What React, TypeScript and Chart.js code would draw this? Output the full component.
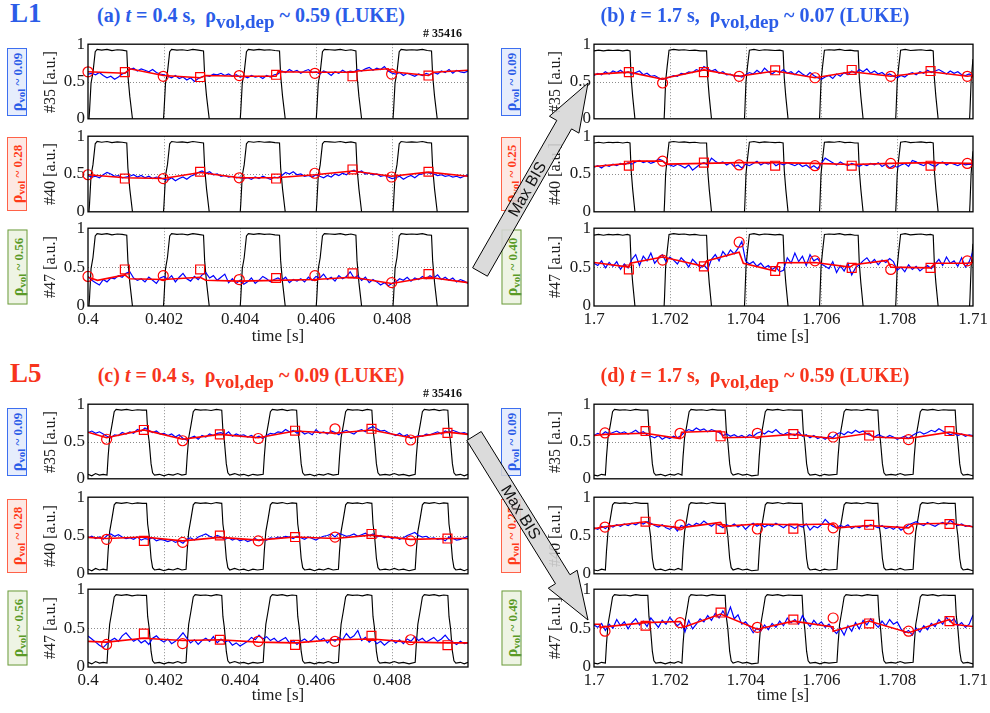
import React, { useEffect, useRef } from "react";
import { Chart, registerables } from "chart.js";
Chart.register(...registerables);

const SERIF = "'Liberation Serif','Times New Roman',Times,serif";
const SANS = "'Liberation Sans',Arial,Helvetica,sans-serif";
const BLUE_TXT = "#2b5ce8";
const RED_TXT = "#f7341c";

type Pt = [number, number];

// ---------- axes ----------
const BLUE_DT = 0.0001; // sampling step of the blue signal [s]
const X_TICKS_LEFT = [0.4, 0.402, 0.404, 0.406, 0.408, 0.41];
const X_LABELS_LEFT = ["0.4", "0.402", "0.404", "0.406", "0.408", ""];
const X_TICKS_RIGHT = [1.7, 1.702, 1.704, 1.706, 1.708, 1.71];
const X_LABELS_RIGHT = ["1.7", "1.702", "1.704", "1.706", "1.708", "1.71"];
const Y_TICKS = [0, 0.5, 1];
const Y_LABELS = ["0", "0.5", "1"];
const CHANNELS = ["#35", "#40", "#47"];
const RHO_A = ["0.09", "0.28", "0.56"];
const RHO_B = ["0.09", "0.25", "0.40"];
const RHO_C = ["0.09", "0.28", "0.56"];
const RHO_D = ["0.09", "0.25", "0.49"];
const SHOT = "# 35416";

// ---------- black modulation signals ----------
const BLACK_A: Pt[] = [
  [0.4,-0.2],[0.40004,0.1],[0.40008,0.48],[0.40013,0.62],[0.40019,0.9],[0.40024,0.93],[0.40036,0.92],[0.4005,0.93],[0.40063,0.915],[0.40077,0.925],[0.4009,0.92],[0.40102,0.91],[0.40105,0.58],[0.4011,0.3],[0.40117,0.0],[0.4012,-0.2],
  [0.40196,-0.2],[0.402,0.1],[0.40204,0.48],[0.40209,0.62],[0.40215,0.9],[0.4022,0.93],[0.40234,0.92],[0.40248,0.925],[0.40262,0.915],[0.40276,0.93],[0.4029,0.92],[0.40304,0.91],[0.40307,0.58],[0.40312,0.3],[0.40319,0.0],[0.40322,-0.2],
  [0.40398,-0.2],[0.40402,0.1],[0.40406,0.48],[0.40411,0.62],[0.40417,0.9],[0.40422,0.93],[0.40436,0.92],[0.4045,0.93],[0.40464,0.92],[0.40478,0.925],[0.40492,0.915],[0.40504,0.91],[0.40507,0.58],[0.40512,0.3],[0.40519,0.0],[0.40522,-0.2],
  [0.40598,-0.2],[0.40602,0.1],[0.40606,0.48],[0.40611,0.62],[0.40617,0.9],[0.40622,0.93],[0.40636,0.925],[0.4065,0.92],[0.40664,0.93],[0.40678,0.915],[0.40692,0.925],[0.40705,0.91],[0.40708,0.58],[0.40713,0.3],[0.4072,0.0],[0.40723,-0.2],
  [0.408,-0.2],[0.40804,0.1],[0.40808,0.48],[0.40813,0.62],[0.40819,0.9],[0.40824,0.93],[0.40838,0.92],[0.40852,0.925],[0.40866,0.92],[0.4088,0.93],[0.40893,0.915],[0.40904,0.91],[0.40907,0.58],[0.40912,0.3],[0.40919,0.0],[0.40922,-0.2],[0.41,-0.2],
];
const BLACK_B: Pt[] = [
  [1.7,0.91],[1.70012,0.92],[1.70025,0.91],[1.70038,0.92],[1.7005,0.915],[1.70063,0.92],[1.70076,0.91],[1.70088,0.92],[1.70095,0.91],[1.70098,0.55],[1.70102,0.3],[1.70108,0.0],[1.70111,-0.2],
  [1.70183,-0.2],[1.70186,0.1],[1.70189,0.5],[1.70193,0.7],[1.70198,0.92],[1.7021,0.93],[1.70224,0.92],[1.70238,0.925],[1.70252,0.915],[1.70266,0.92],[1.7028,0.91],[1.70297,0.91],[1.703,0.55],[1.70304,0.3],[1.7031,0.0],[1.70313,-0.2],
  [1.70395,-0.2],[1.70398,0.1],[1.70401,0.5],[1.70405,0.7],[1.7041,0.92],[1.70422,0.93],[1.70436,0.915],[1.7045,0.925],[1.70464,0.92],[1.70478,0.915],[1.7049,0.92],[1.70499,0.91],[1.70502,0.55],[1.70506,0.3],[1.70512,0.0],[1.70515,-0.2],
  [1.70593,-0.2],[1.70596,0.1],[1.70599,0.5],[1.70603,0.7],[1.70608,0.92],[1.7062,0.925],[1.70634,0.92],[1.70648,0.93],[1.70662,0.915],[1.70676,0.92],[1.70688,0.91],[1.70697,0.91],[1.707,0.55],[1.70704,0.3],[1.7071,0.0],[1.70713,-0.2],
  [1.70794,-0.2],[1.70797,0.1],[1.708,0.5],[1.70804,0.7],[1.70809,0.92],[1.70821,0.93],[1.70835,0.915],[1.70849,0.92],[1.70863,0.925],[1.70877,0.915],[1.70888,0.92],[1.70895,0.91],[1.70898,0.55],[1.70902,0.3],[1.70908,0.0],[1.70911,-0.2],
  [1.70989,-0.2],[1.70992,0.1],[1.70995,0.5],[1.70999,0.75],[1.71,0.8],
];
const BLACK_C: Pt[] = [
  [0.4,0.06],[0.4001,0.04],[0.4002,0.07],[0.4003,0.05],[0.4004,0.06],[0.4005,0.05],[0.40053,0.3],[0.40057,0.55],[0.40063,0.72],[0.40069,0.9],[0.40074,0.93],[0.40088,0.92],[0.40102,0.93],[0.40116,0.915],[0.4013,0.925],[0.40143,0.92],[0.40154,0.92],[0.40157,0.65],[0.40161,0.5],[0.40166,0.2],[0.4017,0.08],[0.40175,0.05],[0.40188,0.06],[0.402,0.04],[0.40212,0.06],[0.40224,0.05],[0.40236,0.07],[0.40247,0.05],[0.40258,0.06],
  [0.40261,0.3],[0.40265,0.55],[0.40271,0.72],[0.40277,0.9],[0.40282,0.93],[0.40296,0.92],[0.4031,0.925],[0.40324,0.915],[0.40338,0.93],[0.40352,0.92],[0.40355,0.65],[0.40359,0.5],[0.40364,0.2],[0.40368,0.08],[0.40373,0.05],[0.40386,0.07],[0.40398,0.05],[0.4041,0.06],[0.40422,0.04],[0.40434,0.06],[0.40446,0.05],[0.40461,0.06],
  [0.40464,0.3],[0.40468,0.55],[0.40474,0.72],[0.4048,0.9],[0.40485,0.93],[0.40498,0.92],[0.40511,0.93],[0.40524,0.915],[0.40537,0.925],[0.40549,0.92],[0.40552,0.65],[0.40556,0.5],[0.40561,0.2],[0.40565,0.08],[0.4057,0.05],[0.40584,0.06],[0.40596,0.04],[0.40608,0.06],[0.4062,0.05],[0.40632,0.07],[0.40645,0.05],[0.40659,0.06],
  [0.40662,0.3],[0.40666,0.55],[0.40672,0.72],[0.40678,0.9],[0.40683,0.93],[0.40696,0.92],[0.40709,0.925],[0.40722,0.915],[0.40735,0.93],[0.40747,0.92],[0.4075,0.65],[0.40754,0.5],[0.40759,0.2],[0.40763,0.08],[0.40768,0.05],[0.40782,0.06],[0.40794,0.05],[0.40806,0.07],[0.40818,0.05],[0.4083,0.06],[0.40845,0.04],[0.40861,0.06],
  [0.40864,0.3],[0.40868,0.55],[0.40874,0.72],[0.4088,0.9],[0.40885,0.93],[0.40898,0.92],[0.40911,0.93],[0.40924,0.915],[0.40936,0.925],[0.40947,0.92],[0.4095,0.65],[0.40954,0.5],[0.40959,0.2],[0.40963,0.08],[0.40968,0.05],[0.4098,0.06],[0.4099,0.04],[0.41,0.06],
];
const BLACK_D: Pt[] = [
  [1.7,0.05],[1.7001,0.04],[1.7002,0.06],[1.7003,0.05],[1.70033,0.3],[1.70037,0.55],[1.70043,0.72],[1.70049,0.9],[1.70054,0.93],[1.70068,0.92],[1.70082,0.925],[1.70096,0.915],[1.7011,0.93],[1.70124,0.92],[1.70142,0.92],[1.70145,0.65],[1.70149,0.5],[1.70154,0.2],[1.70158,0.08],[1.70163,0.05],[1.70176,0.06],[1.70188,0.04],[1.702,0.06],[1.70212,0.05],[1.70222,0.07],[1.70232,0.05],
  [1.70235,0.3],[1.70239,0.55],[1.70245,0.72],[1.70251,0.9],[1.70256,0.93],[1.7027,0.92],[1.70284,0.925],[1.70298,0.915],[1.70312,0.93],[1.70326,0.92],[1.70346,0.92],[1.70349,0.65],[1.70353,0.5],[1.70358,0.2],[1.70362,0.08],[1.70367,0.05],[1.7038,0.07],[1.70392,0.05],[1.70404,0.06],[1.70416,0.04],[1.70433,0.05],
  [1.70436,0.3],[1.7044,0.55],[1.70446,0.72],[1.70452,0.9],[1.70457,0.93],[1.70471,0.92],[1.70485,0.93],[1.70499,0.915],[1.70513,0.925],[1.70527,0.92],[1.70549,0.92],[1.70552,0.65],[1.70556,0.5],[1.70561,0.2],[1.70565,0.08],[1.7057,0.05],[1.70584,0.06],[1.70596,0.04],[1.70608,0.06],[1.7062,0.05],[1.70641,0.06],
  [1.70644,0.3],[1.70648,0.55],[1.70654,0.72],[1.7066,0.9],[1.70665,0.93],[1.70679,0.92],[1.70693,0.925],[1.70707,0.915],[1.70721,0.93],[1.70735,0.92],[1.70749,0.92],[1.70752,0.65],[1.70756,0.5],[1.70761,0.2],[1.70765,0.08],[1.7077,0.05],[1.70784,0.06],[1.70796,0.05],[1.70808,0.07],[1.7082,0.05],[1.70842,0.06],
  [1.70845,0.3],[1.70849,0.55],[1.70855,0.72],[1.70861,0.9],[1.70866,0.93],[1.7088,0.92],[1.70894,0.93],[1.70908,0.915],[1.70922,0.925],[1.70936,0.92],[1.70953,0.92],[1.70956,0.65],[1.7096,0.5],[1.70965,0.2],[1.70969,0.08],[1.70974,0.05],[1.70986,0.06],[1.71,0.04],
];

// ---------- blue signals (hundredths of a.u., one sample per BLUE_DT) ----------
const BLUE_A1 = [60,61,59,62,58,55,57,53,56,60,62, 66,68,64,67,65,63,66,62,60,59, 57,55,58,54,56,52,55,50,54,56, 58,57,60,59,61,58,60,57,59,56, 57,55,58,56,57,54,58,56,59,60, 64,62,66,63,65,61,64,66,62,63, 60,64,62,58,63,61,65,62,64,63, 66,64,67,69,65,68,66,70,64,61, 60,62,58,61,59,57,60,58,61,59, 62,60,64,62,66,61,65,63,62,64];
const BLUE_A2 = [48,46,47,45,49,52,50,47,48,45,46, 47,49,46,48,45,47,44,46,45,43, 42,45,41,44,46,43,47,49,52,54, 51,53,49,50,47,48,46,47,45,46, 44,45,43,46,44,47,45,43,46,45, 48,52,50,53,49,50,47,48,46,49, 47,45,48,46,50,48,51,49,53,55, 52,54,50,51,49,50,47,48,46,44, 45,47,43,46,48,45,49,50,52,51, 50,48,49,47,48,46,47,45,47,49];
const BLUE_A3 = [38,33,30,27,34,31,36,35,39,37,42, 44,36,33,35,31,37,33,29,36,38, 34,39,31,37,42,35,32,38,34,40, 43,36,39,33,37,41,30,35,29,33, 28,31,36,29,33,38,35,31,34,36, 33,37,30,34,32,35,31,37,33,38, 36,41,34,37,32,39,35,38,44,36, 39,33,37,30,34,31,27,30,26,29, 31,35,33,37,32,36,34,38,35,39, 36,40,34,37,33,36,31,34,32,29];
const BLUE_B1 = [58,61,59,63,60,64,62,65,61,63,60, 62,64,59,61,57,58,55,53,54,56, 58,57,61,60,63,62,66,64,70,67, 64,66,61,63,59,60,57,58,56,59, 62,60,65,61,68,63,60,64,62,66, 61,63,59,64,60,57,62,58,55,53, 56,58,54,60,57,62,59,64,61,66, 63,67,61,64,60,62,58,60,57,55, 58,56,60,62,59,63,61,65,62,64, 66,63,60,64,61,63,59,58,60,57];
const BLUE_B2 = [59,61,58,62,60,63,61,64,62,65,63, 66,68,65,67,64,66,70,68,63,62, 60,63,61,58,62,55,59,63,65,62, 71,67,64,66,62,65,60,62,58,63, 61,64,67,62,65,63,66,61,64,62, 65,63,61,64,60,62,58,61,57,64, 71,68,65,62,66,63,61,64,62,60, 63,61,64,62,65,60,63,58,61,59, 62,64,60,68,66,63,61,65,62,60, 64,66,62,65,63,61,64,62,63,62];
const BLUE_B3 = [55,52,58,49,56,51,57,47,54,49,60, 66,52,64,58,68,55,61,66,57,63, 59,54,62,57,50,60,55,49,53,47, 60,66,58,70,64,72,67,74,83,58, 54,57,51,55,49,52,47,50,44,46, 62,55,68,57,64,52,66,58,61,54, 51,48,57,43,52,45,55,40,49,53, 58,62,55,60,53,59,56,61,57,46, 50,44,53,47,51,45,49,52,48,54, 60,52,63,55,58,51,62,50,57,70];
const BLUE_C1 = [62,64,61,63,60,57,55,59,58,62,60, 63,61,66,64,68,65,62,64,60,61, 58,60,56,59,54,52,55,57,53,58, 56,60,58,61,62,59,63,57,60,58, 59,56,58,55,57,54,58,61,60,63, 62,66,63,65,61,64,60,62,59,66, 61,63,60,64,62,59,63,65,62,60, 64,66,63,68,70,67,64,65,62,60, 58,61,57,59,54,56,58,57,60,59, 61,63,60,64,62,65,63,61,62,60];
const BLUE_C2 = [47,49,46,48,45,50,52,49,51,48,46, 47,45,48,44,46,45,47,43,45,44, 42,44,41,43,40,45,47,44,48,50, 52,49,47,50,48,45,47,44,46,43, 45,42,44,46,43,45,44,47,46,48, 47,49,48,46,49,47,45,48,46,44, 47,49,50,52,48,53,51,49,50,52, 49,51,53,50,52,48,50,47,49,46, 48,45,47,50,52,54,50,48,49,46, 47,45,46,43,48,46,44,45,47,49];
const BLUE_C3 = [40,36,32,28,25,30,34,37,33,40,44, 38,33,36,31,34,29,37,40,35,32, 36,30,33,38,44,37,31,35,29,34, 37,33,39,31,36,32,34,28,31,27, 30,33,38,35,41,36,39,34,37,32, 35,38,31,34,29,33,36,32,35,40, 34,37,31,36,33,38,35,43,37,40, 47,34,38,32,36,30,33,28,32,35, 31,35,30,36,33,39,34,37,32,35, 38,33,36,41,35,32,29,33,30,31];
const BLUE_D1 = [58,61,59,63,60,62,64,61,63,60,62, 65,61,63,59,57,55,58,53,56,54, 57,55,58,63,66,64,68,65,67,63, 66,64,62,58,60,57,59,56,58,55, 59,57,61,63,60,64,62,66,61,59, 62,60,58,63,57,59,55,58,54,56, 53,57,55,60,62,59,63,61,65,62, 64,60,58,56,59,57,55,58,56,53, 55,57,54,58,61,63,60,62,65,63, 67,64,62,59,61,58,60,57,59,58];
const BLUE_D2 = [60,58,62,59,63,61,64,62,65,63,66, 64,67,65,68,66,63,61,64,60,58, 62,56,63,61,65,62,66,64,69,65, 62,66,63,60,64,62,65,61,64,58, 63,66,62,65,61,64,62,66,63,60, 64,62,59,63,61,65,57,62,60,64, 71,66,62,60,63,61,64,59,62,60, 63,61,64,62,60,63,59,61,58,62, 57,60,64,66,68,65,63,67,64,62, 65,67,64,70,66,63,65,62,63,61];
const BLUE_D3 = [54,51,56,47,55,50,61,53,58,49,57, 62,54,59,52,63,57,51,60,55,64, 58,53,57,45,60,49,55,62,58,66, 60,69,63,72,64,77,62,67,55,58, 52,44,50,46,54,48,56,51,59,53, 63,57,61,55,66,58,52,60,54,58, 51,55,48,43,50,41,53,46,57,49, 60,54,62,56,51,59,53,61,55,58, 49,44,47,41,50,45,53,48,56,52, 61,55,64,58,62,53,57,51,55,67];

// ---------- red fitted lines and markers ----------
const RED_A1: Pt[] = [[0.4,0.63],[0.40097,0.61],[0.4011,0.67],[0.40198,0.58],[0.40295,0.55],[0.4031,0.58],[0.40398,0.57],[0.40495,0.57],[0.405,0.63],[0.40597,0.625],[0.40696,0.625],[0.4071,0.64],[0.4079,0.67],[0.40799,0.63],[0.40896,0.58],[0.4091,0.625],[0.41,0.65]];
const CIRC_A1: Pt[] = [[0.4,0.63],[0.40198,0.57],[0.40398,0.58],[0.40597,0.61],[0.40799,0.6]];
const SQR_A1: Pt[] = [[0.40097,0.625],[0.40295,0.56],[0.40495,0.59],[0.40696,0.57],[0.40896,0.58]];
const RED_A2: Pt[] = [[0.4,0.49],[0.40097,0.45],[0.40198,0.44],[0.40295,0.52],[0.40398,0.45],[0.40495,0.45],[0.40597,0.49],[0.40696,0.54],[0.40799,0.47],[0.40896,0.525],[0.41,0.47]];
const CIRC_A2: Pt[] = [[0.4,0.49],[0.40198,0.44],[0.40398,0.45],[0.40597,0.51],[0.40799,0.46]];
const SQR_A2: Pt[] = [[0.40097,0.44],[0.40295,0.53],[0.40495,0.44],[0.40696,0.56],[0.40896,0.53]];
const RED_A3: Pt[] = [[0.4,0.37],[0.40025,0.33],[0.40097,0.4],[0.4011,0.35],[0.40198,0.34],[0.40295,0.37],[0.4031,0.33],[0.40398,0.32],[0.40495,0.33],[0.40597,0.34],[0.40696,0.37],[0.40799,0.29],[0.40896,0.37],[0.41,0.3]];
const CIRC_A3: Pt[] = [[0.4,0.38],[0.40198,0.39],[0.40398,0.34],[0.40597,0.39],[0.40799,0.3]];
const SQR_A3: Pt[] = [[0.40097,0.47],[0.40295,0.47],[0.40495,0.36],[0.40696,0.42],[0.40896,0.41]];

const RED_B1: Pt[] = [[1.7,0.595],[1.70092,0.625],[1.70181,0.53],[1.70192,0.55],[1.7029,0.655],[1.70383,0.57],[1.70478,0.64],[1.70583,0.55],[1.7068,0.63],[1.70783,0.57],[1.70888,0.63],[1.70985,0.57],[1.71,0.58]];
const CIRC_B1: Pt[] = [[1.70181,0.48],[1.70383,0.57],[1.70583,0.55],[1.70783,0.57],[1.70985,0.57]];
const SQR_B1: Pt[] = [[1.70092,0.625],[1.7029,0.625],[1.70478,0.65],[1.7068,0.655],[1.70888,0.64]];
const RED_B2: Pt[] = [[1.7,0.6],[1.70092,0.64],[1.70102,0.67],[1.70181,0.67],[1.70192,0.63],[1.7029,0.64],[1.70383,0.65],[1.70478,0.65],[1.70583,0.64],[1.7068,0.625],[1.70783,0.64],[1.70888,0.65],[1.70985,0.64],[1.71,0.64]];
const CIRC_B2: Pt[] = [[1.70181,0.67],[1.70383,0.62],[1.70583,0.61],[1.70783,0.64],[1.70985,0.64]];
const SQR_B2: Pt[] = [[1.70092,0.61],[1.7029,0.65],[1.70478,0.61],[1.7068,0.61],[1.70888,0.61]];
const RED_B3: Pt[] = [[1.7,0.56],[1.70092,0.5],[1.70096,0.55],[1.70181,0.63],[1.7029,0.51],[1.70297,0.58],[1.70383,0.69],[1.70394,0.55],[1.70478,0.45],[1.70486,0.555],[1.70583,0.56],[1.70675,0.5],[1.70684,0.53],[1.70774,0.585],[1.70783,0.5],[1.70888,0.49],[1.709,0.55],[1.70985,0.55],[1.71,0.56]];
const CIRC_B3: Pt[] = [[1.70181,0.59],[1.70383,0.82],[1.70583,0.58],[1.70783,0.47],[1.70985,0.58]];
const SQR_B3: Pt[] = [[1.70092,0.47],[1.7029,0.51],[1.70478,0.45],[1.7068,0.49],[1.70888,0.49]];

const RED_C1: Pt[] = [[0.4,0.625],[0.40049,0.55],[0.40147,0.655],[0.40249,0.53],[0.40347,0.595],[0.40448,0.55],[0.40545,0.64],[0.4065,0.61],[0.40746,0.655],[0.40849,0.55],[0.40946,0.625],[0.41,0.595]];
const CIRC_C1: Pt[] = [[0.40049,0.53],[0.40249,0.51],[0.40448,0.54],[0.4065,0.67],[0.40849,0.52]];
const SQR_C1: Pt[] = [[0.40147,0.655],[0.40347,0.595],[0.40545,0.645],[0.40746,0.67],[0.40946,0.615]];
const RED_C2: Pt[] = [[0.4,0.475],[0.40049,0.46],[0.40147,0.48],[0.40249,0.43],[0.40347,0.475],[0.40448,0.44],[0.40545,0.48],[0.4065,0.46],[0.40746,0.505],[0.40849,0.45],[0.40946,0.46],[0.41,0.46]];
const CIRC_C2: Pt[] = [[0.40049,0.45],[0.40249,0.41],[0.40448,0.43],[0.4065,0.48],[0.40849,0.43]];
const SQR_C2: Pt[] = [[0.40147,0.43],[0.40347,0.5],[0.40545,0.48],[0.40746,0.52],[0.40946,0.46]];
const RED_C3: Pt[] = [[0.4,0.33],[0.40049,0.32],[0.40147,0.37],[0.40249,0.34],[0.40347,0.35],[0.40448,0.32],[0.40545,0.31],[0.4065,0.35],[0.40746,0.36],[0.40849,0.32],[0.40946,0.31],[0.41,0.31]];
const CIRC_C3: Pt[] = [[0.40049,0.29],[0.40249,0.3],[0.40448,0.33],[0.4065,0.33],[0.40849,0.35]];
const SQR_C3: Pt[] = [[0.40147,0.43],[0.40347,0.35],[0.40545,0.285],[0.40746,0.4],[0.40946,0.28]];

const RED_D1: Pt[] = [[1.7,0.58],[1.70029,0.595],[1.70136,0.61],[1.70148,0.6],[1.70227,0.54],[1.70231,0.625],[1.70334,0.64],[1.70341,0.55],[1.70431,0.56],[1.70526,0.595],[1.70631,0.54],[1.70726,0.61],[1.70737,0.56],[1.7083,0.54],[1.70938,0.625],[1.71,0.57]];
const CIRC_D1: Pt[] = [[1.70029,0.615],[1.70227,0.61],[1.70431,0.61],[1.70631,0.56],[1.7083,0.525]];
const SQR_D1: Pt[] = [[1.70136,0.64],[1.70334,0.57],[1.70526,0.6],[1.70726,0.58],[1.70938,0.64]];
const RED_D2: Pt[] = [[1.7,0.59],[1.70029,0.615],[1.70136,0.68],[1.70148,0.65],[1.70227,0.6],[1.70334,0.67],[1.70341,0.62],[1.70431,0.65],[1.70526,0.64],[1.70631,0.65],[1.7064,0.6],[1.70726,0.63],[1.7083,0.6],[1.70843,0.65],[1.70938,0.66],[1.71,0.615]];
const CIRC_D2: Pt[] = [[1.70029,0.61],[1.70227,0.64],[1.70431,0.585],[1.70631,0.6],[1.7083,0.585]];
const SQR_D2: Pt[] = [[1.70136,0.68],[1.70334,0.585],[1.70526,0.59],[1.70726,0.64],[1.70938,0.65]];
const RED_D3: Pt[] = [[1.7,0.55],[1.70016,0.55],[1.70016,0.51],[1.70136,0.57],[1.70227,0.585],[1.70236,0.51],[1.70334,0.68],[1.70431,0.485],[1.70526,0.59],[1.70631,0.515],[1.70631,0.46],[1.70726,0.59],[1.7083,0.44],[1.70938,0.61],[1.70948,0.55],[1.71,0.52]];
const CIRC_D3: Pt[] = [[1.70029,0.46],[1.70227,0.57],[1.70431,0.51],[1.70631,0.63],[1.7083,0.46]];
const SQR_D3: Pt[] = [[1.70136,0.53],[1.70334,0.7],[1.70526,0.61],[1.70726,0.56],[1.70938,0.59]];

// ---------- layout ----------
const LEFT_X = 88, LEFT_W = 380, RIGHT_X = 594, RIGHT_W = 379;
const ROWS_TOP = [[43, 77], [135, 78], [227, 79]];
const ROWS_BOT = [[403, 77], [496, 79], [588, 79]];
const PAD_L = 40, PAD_T = 12, PAD_R = 24, PAD_B = 12, X_AXIS_H = 26;

interface Spec {
  left: number; top: number; width: number; height: number; t0: number;
  xTicks: number[]; xLabels: string[]; showX: boolean;
  black: Pt[]; blue: number[]; red: Pt[]; circ: Pt[]; sq: Pt[];
}

function panel(left: number, width: number, rows: number[][], t0: number, xTicks: number[], xLabels: string[], black: Pt[], blue: number[][], red: Pt[][], circ: Pt[][], sq: Pt[][]): Spec[] {
  return rows.map(([top, height], i) => ({
    left, top, width, height, t0, xTicks, xLabels, showX: i === 2,
    black, blue: blue[i], red: red[i], circ: circ[i], sq: sq[i],
  }));
}

const SPECS: Spec[] = [
  ...panel(LEFT_X, LEFT_W, ROWS_TOP, 0.4, X_TICKS_LEFT, X_LABELS_LEFT, BLACK_A, [BLUE_A1, BLUE_A2, BLUE_A3], [RED_A1, RED_A2, RED_A3], [CIRC_A1, CIRC_A2, CIRC_A3], [SQR_A1, SQR_A2, SQR_A3]),
  ...panel(RIGHT_X, RIGHT_W, ROWS_TOP, 1.7, X_TICKS_RIGHT, X_LABELS_RIGHT, BLACK_B, [BLUE_B1, BLUE_B2, BLUE_B3], [RED_B1, RED_B2, RED_B3], [CIRC_B1, CIRC_B2, CIRC_B3], [SQR_B1, SQR_B2, SQR_B3]),
  ...panel(LEFT_X, LEFT_W, ROWS_BOT, 0.4, X_TICKS_LEFT, X_LABELS_LEFT, BLACK_C, [BLUE_C1, BLUE_C2, BLUE_C3], [RED_C1, RED_C2, RED_C3], [CIRC_C1, CIRC_C2, CIRC_C3], [SQR_C1, SQR_C2, SQR_C3]),
  ...panel(RIGHT_X, RIGHT_W, ROWS_BOT, 1.7, X_TICKS_RIGHT, X_LABELS_RIGHT, BLACK_D, [BLUE_D1, BLUE_D2, BLUE_D3], [RED_D1, RED_D2, RED_D3], [CIRC_D1, CIRC_D2, CIRC_D3], [SQR_D1, SQR_D2, SQR_D3]),
];

const framePlugin = {
  id: "frame",
  beforeDatasetsDraw(chart: any, _a: any, opts: any) {
    const { ctx, chartArea, scales } = chart;
    const { left, right, top, bottom } = chartArea;
    ctx.save();
    ctx.strokeStyle = "#8c8c8c";
    ctx.lineWidth = 1;
    ctx.setLineDash([1, 2]);
    ctx.beginPath();
    for (const v of opts.gridX as number[]) {
      const px = Math.round(scales.x.getPixelForValue(v)) + 0.5;
      ctx.moveTo(px, top); ctx.lineTo(px, bottom);
    }
    const py = Math.round(scales.y.getPixelForValue(0.5)) + 0.5;
    ctx.moveTo(left, py); ctx.lineTo(right, py);
    ctx.stroke();
    ctx.restore();
  },
  afterDatasetsDraw(chart: any) {
    const { ctx, chartArea } = chart;
    const { left, right, top, bottom } = chartArea;
    ctx.save();
    ctx.strokeStyle = "#000";
    ctx.lineWidth = 1.3;
    ctx.strokeRect(left, top, right - left, bottom - top);
    ctx.restore();
  },
};

function Plot({ s }: { s: Spec }) {
  const ref = useRef<HTMLCanvasElement>(null);
  const cw = s.width + PAD_L + PAD_R;
  const ch = s.height + PAD_T + (s.showX ? X_AXIS_H : PAD_B);
  useEffect(() => {
    const xy = (p: Pt[]) => p.map(([x, y]) => ({ x, y }));
    const font = { family: SERIF, size: 17 };
    const marker = (data: Pt[], style: string, r: number) => ({
      data: xy(data), showLine: false, pointStyle: style, pointRadius: r,
      pointBorderWidth: 1.2, pointBorderColor: "#ff0000", borderColor: "#ff0000",
      pointBackgroundColor: "rgba(0,0,0,0)", backgroundColor: "rgba(0,0,0,0)", clip: false, order: 1,
    });
    const chart = new Chart(ref.current as HTMLCanvasElement, {
      type: "line",
      data: {
        datasets: [
          { data: xy(s.black), borderColor: "#000", borderWidth: 1.15, pointRadius: 0, order: 4 },
          { data: s.blue.map((v, i) => ({ x: s.t0 + i * BLUE_DT, y: v / 100 })), borderColor: "#0000ff", borderWidth: 1.2, pointRadius: 0, order: 3 },
          { data: xy(s.red), borderColor: "#ff0000", borderWidth: 1.6, pointRadius: 0, order: 2 },
          marker(s.circ, "circle", 5) as any,
          marker(s.sq, "rect", 6.3) as any,
        ],
      },
      options: {
        animation: false,
        responsive: false,
        maintainAspectRatio: false,
        events: [],
        layout: { padding: { left: 0, top: PAD_T, right: PAD_R, bottom: s.showX ? 0 : PAD_B } },
        scales: {
          x: {
            type: "linear",
            min: s.xTicks[0],
            max: s.xTicks[s.xTicks.length - 1],
            display: s.showX,
            grid: { display: false, drawTicks: false },
            border: { display: false },
            afterBuildTicks: (a: any) => { a.ticks = s.xTicks.map((value) => ({ value })); },
            afterFit: (a: any) => { a.height = s.showX ? X_AXIS_H : 0; },
            ticks: { autoSkip: false, maxRotation: 0, minRotation: 0, padding: 3, color: "#1a1a1a", font, callback: (_v: any, i: number) => s.xLabels[i] },
          },
          y: {
            min: 0,
            max: 1,
            grid: { display: false, drawTicks: false },
            border: { display: false },
            afterBuildTicks: (a: any) => { a.ticks = Y_TICKS.map((value) => ({ value })); },
            afterFit: (a: any) => { a.width = PAD_L; },
            ticks: { padding: 3, color: "#1a1a1a", font, callback: (_v: any, i: number) => Y_LABELS[i] },
          },
        },
        plugins: {
          legend: { display: false },
          tooltip: { enabled: false },
          frame: { gridX: s.xTicks.slice(1, -1) },
        } as any,
      },
      plugins: [framePlugin],
    } as any);
    return () => chart.destroy();
  }, []);
  return (
    <canvas
      ref={ref}
      width={cw}
      height={ch}
      style={{ position: "absolute", left: s.left - PAD_L, top: s.top - PAD_T, width: cw, height: ch }}
    />
  );
}

function RhoBox({ cx, cy, len, value, color, border, fill }: { cx: number; cy: number; len: number; value: string; color: string; border: string; fill: string }) {
  return (
    <div style={{
      position: "absolute", left: cx - len / 2, top: cy - 10, width: len, height: 20, boxSizing: "border-box",
      transform: "rotate(-90deg)", border: `1px solid ${border}`, background: fill, color,
      font: `bold 13px ${SERIF}`, lineHeight: "18px", textAlign: "center", whiteSpace: "nowrap",
    }}>
      <span style={{ fontSize: 16 }}>ρ</span>
      <span style={{ fontSize: 11, position: "relative", top: 3 }}>vol</span> ~ {value}
    </div>
  );
}

function YLabel({ cx, cy, text }: { cx: number; cy: number; text: string }) {
  return (
    <div style={{
      position: "absolute", left: cx - 45, top: cy - 10, width: 90, height: 20, transform: "rotate(-90deg)",
      textAlign: "center", font: `16px ${SERIF}`, lineHeight: "20px", color: "#222", whiteSpace: "nowrap",
    }}>{text} [a.u.]</div>
  );
}

function Title({ cx, top, color, letter, t, rho }: { cx: number; top: number; color: string; letter: string; t: string; rho: string }) {
  return (
    <div style={{
      position: "absolute", left: cx - 220, width: 440, top, textAlign: "center", color,
      font: `bold 20px ${SERIF}`, lineHeight: "20px", whiteSpace: "nowrap",
    }}>
      ({letter}) <i>t</i> = {t} s,&nbsp; ρ<span style={{ fontSize: 19, position: "relative", top: 6 }}>vol,dep</span> ~ {rho} (LUKE)
    </div>
  );
}

function arrowPoints(tx: number, ty: number, px: number, py: number, hw: number, hhw: number, hl: number) {
  const dx = px - tx, dy = py - ty, L = Math.hypot(dx, dy);
  const ux = dx / L, uy = dy / L, nx = -uy, ny = ux;
  const bx = px - ux * hl, by = py - uy * hl;
  const pts = [
    [tx + nx * hw, ty + ny * hw], [bx + nx * hw, by + ny * hw], [bx + nx * hhw, by + ny * hhw], [px, py],
    [bx - nx * hhw, by - ny * hhw], [bx - nx * hw, by - ny * hw], [tx - nx * hw, ty - ny * hw],
  ];
  return pts.map((p) => p.join(",")).join(" ");
}

const BOX_STYLES = [
  { color: BLUE_TXT, border: "#3d6ff0", fill: "#e6edfc" },
  { color: "#ff3a1a", border: "#ff6248", fill: "#fde8e3" },
  { color: "#5a9a26", border: "#6c9c3c", fill: "#eef4e4" },
];
const BOX_LENS = [68, 74, 75];

export default function App() {
  const rowsLabels = (rows: number[][], boxX: number, labX: number, rhos: string[], key: string) =>
    rows.map(([top, h], i) => (
      <React.Fragment key={key + i}>
        <RhoBox cx={boxX} cy={top + h / 2} len={BOX_LENS[i]} value={rhos[i]} {...BOX_STYLES[i]} />
        <YLabel cx={labX} cy={top + h / 2} text={CHANNELS[i]} />
      </React.Fragment>
    ));
  const txt = (left: number, top: number, s: string, size: number, extra: any = {}) => (
    <div style={{ position: "absolute", left, top, font: `${size}px ${SERIF}`, lineHeight: `${size}px`, whiteSpace: "nowrap", ...extra }}>{s}</div>
  );
  return (
    <div style={{ position: "fixed", left: 0, top: 0, width: 990, height: 713, background: "#fff", overflow: "hidden", fontFamily: SERIF }}>
      {SPECS.map((s, i) => <Plot key={i} s={s} />)}

      {txt(10, 0, "L1", 27, { fontWeight: "bold", color: BLUE_TXT })}
      {txt(10, 360, "L5", 27, { fontWeight: "bold", color: RED_TXT })}
      <Title cx={251} top={5} color={BLUE_TXT} letter="a" t="0.4" rho="0.59" />
      <Title cx={755} top={5} color={BLUE_TXT} letter="b" t="1.7" rho="0.07" />
      <Title cx={251} top={365} color={RED_TXT} letter="c" t="0.4" rho="0.09" />
      <Title cx={755} top={365} color={RED_TXT} letter="d" t="1.7" rho="0.59" />
      {txt(362, 27, SHOT, 12, { fontWeight: "bold", width: 100, textAlign: "right", color: "#111" })}
      {txt(362, 387, SHOT, 12, { fontWeight: "bold", width: 100, textAlign: "right", color: "#111" })}

      {rowsLabels(ROWS_TOP, 17, 50, RHO_A, "a")}
      {rowsLabels(ROWS_TOP, 511, 555, RHO_B, "b")}
      {rowsLabels(ROWS_BOT, 17, 50, RHO_C, "c")}
      {rowsLabels(ROWS_BOT, 511, 555, RHO_D, "d")}

      {txt(228, 327, "time [s]", 17, { width: 100, textAlign: "center", color: "#1a1a1a" })}
      {txt(733, 327, "time [s]", 17, { width: 100, textAlign: "center", color: "#1a1a1a" })}
      {txt(228, 686, "time [s]", 17, { width: 100, textAlign: "center", color: "#1a1a1a" })}
      {txt(733, 686, "time [s]", 17, { width: 100, textAlign: "center", color: "#1a1a1a" })}

      <svg width={990} height={713} style={{ position: "absolute", left: 0, top: 0, pointerEvents: "none" }}>
        <polygon points={arrowPoints(480, 272, 588, 83, 8.5, 17, 48)} fill="rgba(214,214,214,0.88)" stroke="#000" strokeWidth={1} strokeLinejoin="miter" />
        <text transform="translate(527,189) rotate(-60.3)" textAnchor="middle" dominantBaseline="central" fontFamily={SANS} fontSize={16} fill="#111">Max BIS</text>
        <polygon points={arrowPoints(474, 436, 588, 620, 8.5, 17, 48)} fill="rgba(214,214,214,0.88)" stroke="#000" strokeWidth={1} strokeLinejoin="miter" />
        <text transform="translate(521,512) rotate(58.2)" textAnchor="middle" dominantBaseline="central" fontFamily={SANS} fontSize={16} fill="#111">Max BIS</text>
      </svg>
    </div>
  );
}
